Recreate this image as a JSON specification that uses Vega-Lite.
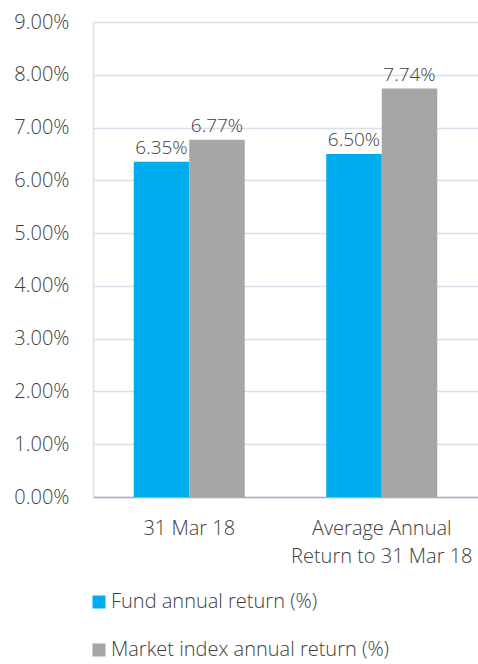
{
  "$schema": "https://vega.github.io/schema/vega-lite/v6.json",
  "width": 385,
  "height": 475,
  "autosize": {"type": "none"},
  "padding": {"left": 93, "top": 22, "right": 0, "bottom": 167},
  "background": "white",
  "config": {
    "font": "Open Sans",
    "view": {"stroke": null},
    "text": {"font": "Open Sans"}
  },
  "data": {
    "values": [
      {"cat": "31 Mar 18", "series": "Fund annual return (%)", "value": 0.0635},
      {"cat": "31 Mar 18", "series": "Market index annual return (%)", "value": 0.0677},
      {"cat": "Average Annual|Return to 31 Mar 18", "series": "Fund annual return (%)", "value": 0.0650},
      {"cat": "Average Annual|Return to 31 Mar 18", "series": "Market index annual return (%)", "value": 0.0774}
    ]
  },
  "encoding": {
    "x": {
      "field": "cat",
      "type": "nominal",
      "sort": null,
      "title": null,
      "scale": {"paddingInner": 0.4234, "paddingOuter": 0.2117},
      "axis": {
        "labelAngle": 0,
        "labelExpr": "split(datum.label, '|')",
        "labelFontSize": 20,
        "labelFontWeight": 300,
        "labelColor": "#404040",
        "labelPadding": 21,
        "labelLineHeight": 28,
        "labelBaseline": "top",
        "labelLimit": 400,
        "ticks": false,
        "domainColor": "#A6AEC4",
        "domainWidth": 1.5
      }
    },
    "xOffset": {"field": "series", "type": "nominal", "sort": null},
    "y": {
      "field": "value",
      "type": "quantitative",
      "title": null,
      "scale": {"domain": [0, 0.09], "nice": false},
      "axis": {
        "values": [0, 0.01, 0.02, 0.03, 0.04, 0.05, 0.06, 0.07, 0.08, 0.09],
        "format": ".2%",
        "labelFontSize": 20,
        "labelFontWeight": 300,
        "labelColor": "#404040",
        "labelPadding": 24,
        "ticks": false,
        "gridColor": "#D9DFEB",
        "gridWidth": 1.5,
        "domainColor": "#D9DFEB",
        "domainWidth": 1.5
      }
    }
  },
  "layer": [
    {
      "mark": {"type": "bar"},
      "encoding": {
        "color": {
          "field": "series",
          "type": "nominal",
          "sort": null,
          "scale": {"range": ["#00AEEF", "#A6A6A6"]},
          "legend": {
            "title": null,
            "orient": "none",
            "legendX": -4,
            "legendY": 570,
            "direction": "vertical",
            "symbolType": "square",
            "symbolSize": 169,
            "symbolStrokeWidth": 0,
            "labelFontSize": 20,
            "labelFontWeight": 300,
            "labelColor": "#404040",
            "labelOffset": 2,
            "rowPadding": 28,
            "labelLimit": 400
          }
        }
      }
    },
    {
      "mark": {"type": "text", "baseline": "bottom", "dy": -4, "fontSize": 19, "fontWeight": 300, "color": "#404040"},
      "encoding": {
        "text": {"field": "value", "type": "quantitative", "format": ".2%"},
        "detail": {"field": "series"}
      }
    }
  ]
}
